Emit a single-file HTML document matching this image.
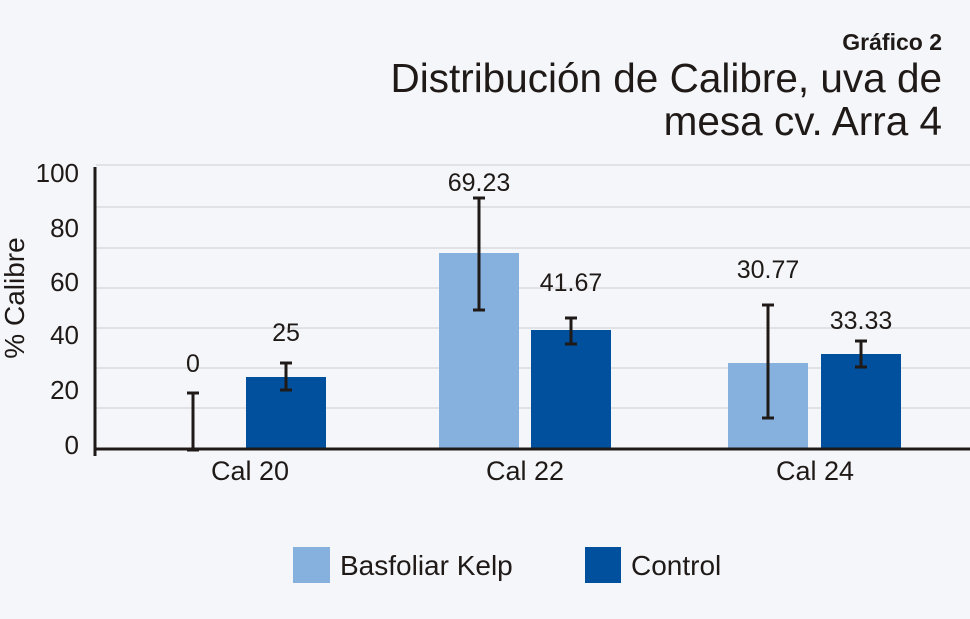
<!DOCTYPE html>
<html><head><meta charset="utf-8"><style>
html,body{margin:0;padding:0;background:#f4f6fa;}
svg{display:block;font-family:"Liberation Sans",Arial,sans-serif;}
</style></head><body>
<svg width="970" height="619" viewBox="0 0 970 619">
<rect width="970" height="619" fill="#f4f6fa"/>
<text x="942" y="50" text-anchor="end" font-size="23" font-weight="bold" fill="#1f1a17">Gráfico 2</text>
<text x="942" y="92" text-anchor="end" font-size="40.5" fill="#1f1a17">Distribución de Calibre, uva de</text>
<text x="942" y="135" text-anchor="end" font-size="40.5" fill="#1f1a17">mesa cv. Arra 4</text>
<g stroke="#d9dbe0" stroke-width="1.5">
<line x1="96" x2="970" y1="165" y2="165"/><line x1="96" x2="970" y1="207" y2="207"/>
<line x1="96" x2="970" y1="248" y2="248"/><line x1="96" x2="970" y1="288" y2="288"/>
<line x1="96" x2="970" y1="328" y2="328"/><line x1="96" x2="970" y1="368" y2="368"/>
<line x1="96" x2="970" y1="408" y2="408"/>
</g>
<g font-size="26" fill="#1f1a17" text-anchor="end">
<text x="79" y="182">100</text><text x="79" y="237">80</text><text x="79" y="291">60</text>
<text x="79" y="344">40</text><text x="79" y="399">20</text><text x="79" y="454">0</text>
</g>
<text transform="translate(24,298) rotate(-90)" text-anchor="middle" font-size="28" fill="#1f1a17">% Calibre</text>
<g fill="#00509d">
<rect x="246" y="377" width="80" height="72"/>
<rect x="531" y="330" width="80" height="119"/>
<rect x="821" y="354" width="80" height="95"/>
</g>
<g fill="#86b0dd">
<rect x="439" y="253" width="80" height="196"/>
<rect x="728" y="363" width="80" height="86"/>
</g>
<line x1="95" y1="167" x2="95" y2="456" stroke="#1f1a17" stroke-width="3"/>
<line x1="94" y1="449" x2="970" y2="449" stroke="#1f1a17" stroke-width="3"/>
<g stroke="#1f1a17" stroke-width="3">
<path d="M193 393V450M187 393H199M187 450H199"/>
<path d="M286 363V390M280 363H292M280 390H292"/>
<path d="M479 198V310M473 198H485M473 310H485"/>
<path d="M571 318V344M565 318H577M565 344H577"/>
<path d="M768 305V418M762 305H774M762 418H774"/>
<path d="M861 341V367M855 341H867M855 367H867"/>
</g>
<g font-size="25" fill="#1f1a17" text-anchor="middle">
<text x="193" y="372">0</text><text x="286" y="341">25</text>
<text x="479" y="191">69.23</text><text x="571" y="291">41.67</text>
<text x="768" y="278">30.77</text><text x="861" y="329">33.33</text>
</g>
<g font-size="27" fill="#1f1a17" text-anchor="middle">
<text x="250" y="480">Cal 20</text><text x="525" y="480">Cal 22</text><text x="815" y="480">Cal 24</text>
</g>
<rect x="293" y="547" width="37" height="36" fill="#86b0dd"/>
<text x="340" y="575" font-size="28" fill="#1f1a17">Basfoliar Kelp</text>
<rect x="585" y="547" width="36" height="36" fill="#00509d"/>
<text x="631" y="575" font-size="28" fill="#1f1a17">Control</text>
</svg>
</body></html>
